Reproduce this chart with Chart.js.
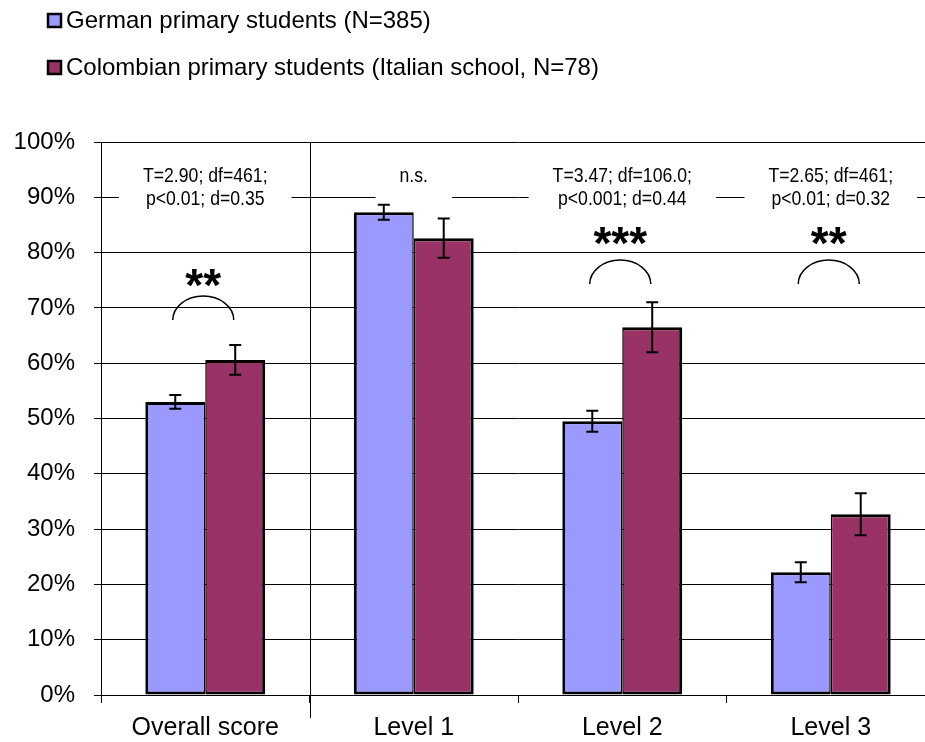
<!DOCTYPE html>
<html>
<head>
<meta charset="utf-8">
<script src="https://cdn.jsdelivr.net/npm/chart.js@4.4.0/dist/chart.umd.min.js"></script>
<style>
	body { margin: 0; background: #fff; }
	#wrap { width: 925px; height: 742px; overflow: hidden; position: relative; }
	canvas { display: block; }
</style>
</head>
<body>
<div id="wrap"><canvas id="chart" width="960" height="742" style="width:960px;height:742px"></canvas></div>
<script>
	const categories = ["Overall score", "Level 1", "Level 2", "Level 3"]
	const seriesLabels = [
		"German primary students (N=385)",
		"Colombian primary students (Italian school, N=78)",
	]
	const germanValues = [53.0, 87.3, 49.5, 22.2]
	const germanErrors = [1.25, 1.35, 1.9, 1.8]
	const colombianValues = [60.6, 82.6, 66.5, 32.7]
	const colombianErrors = [2.7, 3.55, 4.5, 3.8]
	const testLines = [
		["T=2.90; df=461;", "p<0.01; d=0.35"],
		["n.s."],
		["T=3.47; df=106.0;", "p<0.001; d=0.44"],
		["T=2.65; df=461;", "p<0.01; d=0.32"],
	]
	const stars = ["**", "", "***", "**"]

	const FONT = "'Liberation Sans', Arial, sans-serif"

	// error bars drawn on top of each bar, through the y scale
	let errorBars = {
		id: "errorBars",
		afterDatasetsDraw: function(chart) {
			let ctx = chart.ctx
			let y = chart.scales.y
			ctx.save()
			ctx.strokeStyle = "#000"
			ctx.lineWidth = 2
			chart.data.datasets.forEach(function(ds, di) {
				let meta = chart.getDatasetMeta(di)
				meta.data.forEach(function(bar, i) {
					let v = ds.data[i], e = ds.errors[i]
					let top = y.getPixelForValue(v + e)
					let bot = y.getPixelForValue(v - e)
					ctx.beginPath()
					ctx.moveTo(bar.x, top); ctx.lineTo(bar.x, bot)
					ctx.moveTo(bar.x - 6, top); ctx.lineTo(bar.x + 6, top)
					ctx.moveTo(bar.x - 6, bot); ctx.lineTo(bar.x + 6, bot)
					ctx.stroke()
				})
			})
			ctx.restore()
		}
	}

	// t-test notes, significance stars and arcs
	let notes = {
		id: "notes",
		textBox: function(ctx, lines) {
			ctx.font = "21px " + FONT
			let w = 0
			lines.forEach(function(l) { w = Math.max(w, ctx.measureText(l).width * 0.84) })
			return w
		},
		beforeDatasetsDraw: function(chart, args, opts) {
			let ctx = chart.ctx
			let x = chart.scales.x, y = chart.scales.y
			let y90 = y.getPixelForValue(90)
			ctx.save()
			ctx.fillStyle = "#fff"
			testLines.forEach(function(lines, i) {
				let w = notes.textBox(ctx, lines) + 48
				let cx = x.getPixelForValue(i)
				ctx.fillRect(cx - w / 2, y90 - 32, w, 38)
			})
			// separator between overall score and levels
			let sx = (x.getPixelForValue(0) + x.getPixelForValue(1)) / 2
			ctx.strokeStyle = "#000"
			ctx.lineWidth = 1
			ctx.beginPath()
			ctx.moveTo(Math.round(sx) + 0.5, chart.chartArea.top)
			ctx.lineTo(Math.round(sx) + 0.5, chart.chartArea.bottom + 23)
			ctx.stroke()
			ctx.restore()
		},
		afterDatasetsDraw: function(chart, args, opts) {
			let ctx = chart.ctx
			let x = chart.scales.x, y = chart.scales.y
			let y90 = y.getPixelForValue(90)
			ctx.save()
			ctx.fillStyle = "#000"
			ctx.textAlign = "center"
			ctx.textBaseline = "alphabetic"
			testLines.forEach(function(lines, i) {
				let cx = x.getPixelForValue(i)
				ctx.font = "21px " + FONT
				lines.forEach(function(l, li) {
					ctx.save()
					ctx.translate(cx, y90 - 15 + li * 23)
					ctx.scale(0.84, 1)
					ctx.fillText(l, 0, 0)
					ctx.restore()
				})
			})
			stars.forEach(function(s, i) {
				if(!s) {
					return
				}
				let cx = x.getPixelForValue(i) - 2
				ctx.font = "bold 46px " + FONT
				let m = ctx.measureText(s)
				let sy = y.getPixelForValue(opts.starAt[i])
				ctx.fillText(s, cx, sy + (m.actualBoundingBoxAscent - m.actualBoundingBoxDescent) / 2)
				let ay = y.getPixelForValue(opts.arcAt[i])
				ctx.strokeStyle = "#000"
				ctx.lineWidth = 1.5
				ctx.beginPath()
				ctx.ellipse(cx, ay, 30.5, 24, 0, Math.PI, 2 * Math.PI)
				ctx.stroke()
			})
			ctx.restore()
		}
	}

	// legend in two rows at top left
	let legendRows = {
		id: "legendRows",
		afterDraw: function(chart) {
			let ctx = chart.ctx
			ctx.save()
			ctx.font = "24px " + FONT
			ctx.textBaseline = "middle"
			ctx.textAlign = "left"
			chart.data.datasets.forEach(function(ds, i) {
				let cy = 20 + i * 47
				ctx.fillStyle = ds.backgroundColor
				ctx.fillRect(48, cy - 6, 13, 13)
				ctx.strokeStyle = "#000"
				ctx.lineWidth = 2.5
				ctx.strokeRect(48, cy - 6, 13, 13)
				ctx.fillStyle = "#000"
				ctx.fillText(ds.label, 66, cy + 1)
			})
			ctx.restore()
		}
	}

	let elem = document.querySelector("#chart")
	let chart = new Chart(elem, {
		type: "bar",
		data: {
			labels: categories,
			datasets: [{
				label: seriesLabels[0],
				data: germanValues,
				errors: germanErrors,
				backgroundColor: "#9999FF",
				borderColor: "#000",
				borderWidth: {left: 3, top: 3, right: 1.5, bottom: 3},
				borderSkipped: false,
			}, {
				label: seriesLabels[1],
				data: colombianValues,
				errors: colombianErrors,
				backgroundColor: "#993366",
				borderColor: "#000",
				borderWidth: {left: 1.5, top: 3, right: 3, bottom: 3},
				borderSkipped: false,
			}],
		},
		options: {
			responsive: false,
			animation: false,
			categoryPercentage: 0.575,
			barPercentage: 1.0,
			layout: {
				padding: {top: 142, right: 25, left: 0, bottom: 0},
			},
			plugins: {
				legend: {display: false},
				tooltip: {enabled: false},
				notes: {
					starAt: [75.4, null, 83, 83],
					arcAt: [67.8, null, 74.3, 74.3],
				},
			},
			scales: {
				x: {
					grid: {offset: true, drawOnChartArea: false, tickLength: 8, color: "#000", lineWidth: 1},
					border: {color: "#000"},
					ticks: {font: {size: 25, family: FONT}, color: "#000", padding: 10},
					afterFit: function(s) { s.height = 47 },
				},
				y: {
					min: 0,
					max: 100,
					ticks: {
						stepSize: 10,
						callback: function(v) { return v + "%" },
						font: {size: 24, family: FONT},
						color: "#000",
						padding: 19,
					},
					grid: {color: "#000", lineWidth: 1, tickLength: 7},
					border: {color: "#000"},
					afterFit: function(s) { s.width = 101 },
				},
			},
		},
		plugins: [notes, errorBars, legendRows],
	})
</script>
</body>
</html>
